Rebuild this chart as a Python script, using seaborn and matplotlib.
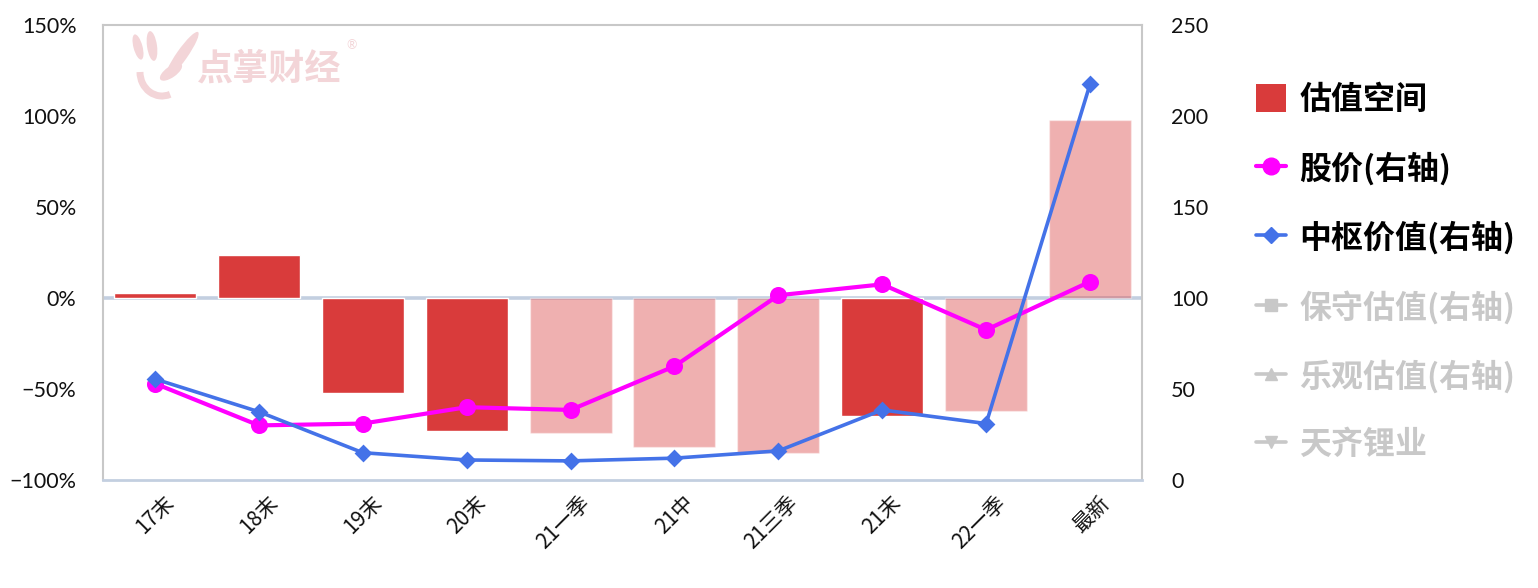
import numpy as np
import pandas as pd
import matplotlib
matplotlib.use("Agg")
import matplotlib.pyplot as plt
import matplotlib.transforms as mtransforms
from matplotlib.lines import Line2D
from matplotlib.patches import Patch, Ellipse, Arc
import seaborn as sns

# ---------------- data ----------------
categories = ["17末", "18末", "19末", "20末", "21一季", "21中", "21三季", "21末", "22一季", "最新"]
space_pct = [3, 23.5, -52, -73, -74, -82, -85, -65, -62, 98]          # 估值空间 (left axis, %)
space_kind = ["实", "实", "实", "实", "虚", "虚", "虚", "实", "虚", "虚"]  # solid / faded bar
price = [53, 30, 31, 40, 38.5, 62.5, 101.5, 107.5, 82.5, 109]        # 股价(右轴)
center_value = [55.5, 37.5, 15, 11, 10.5, 12, 16, 38.5, 31, 217.5]   # 中枢价值(右轴)
left_ticks = [-100, -50, 0, 50, 100, 150]
right_ticks = [0, 50, 100, 150, 200, 250]
legend_labels = ["估值空间", "股价(右轴)", "中枢价值(右轴)", "保守估值(右轴)", "乐观估值(右轴)", "天齐锂业"]

RED = "#D93B3B"
MAGENTA = "#FF00FF"
BLUE = "#4472E8"
GRAY = "#C8C8C8"
ZERO = "#C3CFE0"

sns.set_theme(style="white")
plt.rcParams["font.family"] = ["Lato", "Noto Sans CJK SC", "DejaVu Sans"]
CJK = ["Noto Sans CJK SC", "DejaVu Sans"]

df = pd.DataFrame({"cat": categories, "space": space_pct, "kind": space_kind,
                   "price": price, "center": center_value})

W, H = 1538, 588
fig = plt.figure(figsize=(W / 100, H / 100), dpi=100)
ax = fig.add_axes([103 / W, 1 - 480 / H, (1142 - 103) / W, (480 - 25) / H])

sns.barplot(data=df, x="cat", y="space", hue="kind", hue_order=["实", "虚"],
            palette={"实": RED, "虚": RED}, dodge=False, width=0.79,
            saturation=1, legend=False, ax=ax, zorder=3)
for p in ax.containers[1]:
    p.set_alpha(0.4)

ax.axhline(0, color=ZERO, lw=2.6, zorder=2)
ax.set_ylim(-100, 150)
ax.set_yticks(left_ticks)
ax.set_yticklabels([f"{t}%" if t >= 0 else f"\u2212{abs(t)}%" for t in left_ticks])
ax.set_xlim(-0.5, len(categories) - 0.5)
ax.set_xlabel("")
ax.set_ylabel("")
ax.tick_params(axis="y", length=0, pad=19, labelsize=15.5, labelcolor="#111111")
ax.tick_params(axis="x", length=0, pad=4)
ax.set_xticks(range(len(categories)))
ax.set_xticklabels(categories, rotation=45, ha="right", va="top",
                   rotation_mode="anchor", family=CJK, fontsize=15, color="#111111")
offset = mtransforms.ScaledTranslation(8 / 100, -6 / 100, fig.dpi_scale_trans)
for lab in ax.get_xticklabels():
    lab.set_transform(lab.get_transform() + offset)

for side in ["top", "left", "right"]:
    ax.spines[side].set_color(GRAY)
    ax.spines[side].set_linewidth(1.5)
ax.spines["bottom"].set_color(ZERO)
ax.spines["bottom"].set_linewidth(2)

ax2 = ax.twinx()
sns.pointplot(data=df, x="cat", y="price", color=MAGENTA, markers="o",
              linestyles="-", ax=ax2, errorbar=None,
              markersize=10, linewidth=3)
sns.pointplot(data=df, x="cat", y="center", color=BLUE, markers="D",
              linestyles="-", ax=ax2, errorbar=None,
              markersize=7, linewidth=2.6)
ax2.set_ylim(0, 250)
ax2.set_yticks(right_ticks)
ax2.set_yticklabels([str(t) for t in right_ticks])
ax2.set_ylabel("")
ax2.set_xlabel("")
ax2.tick_params(axis="y", length=0, pad=21, labelsize=15.5, labelcolor="#111111")
for side in ["top", "left", "right", "bottom"]:
    ax2.spines[side].set_visible(False)
ax2.set_xlim(-0.5, len(categories) - 0.5)

# watermark (logo + text), drawn in pixel coordinates
wm = "#F3D5D8"
px = mtransforms.IdentityTransform()
for (cx, cy, w, h, ang) in [(138, 47, 9, 26, 15), (152, 46, 10, 30, 8),
                            (182, 55, 11, 56, -35), (171, 72, 11, 26, -55)]:
    fig.patches.append(Ellipse((cx, H - cy), w, h, angle=ang, transform=px,
                               facecolor=wm, lw=0, zorder=0))
fig.patches.append(Arc((162, H - 72), 44, 48, angle=0, theta1=180, theta2=290,
                       transform=px, color=wm, lw=5, zorder=0))
fig.text(197 / W, 1 - 69 / H, "点掌财经", fontsize=26, fontweight="bold",
         color=wm, family=CJK, va="center", ha="left")
fig.text(346 / W, 1 - 45 / H, "®", fontsize=9, color=wm, va="center", ha="left")

# legend
handles = [
    Patch(facecolor=RED, edgecolor="none"),
    Line2D([], [], color=MAGENTA, lw=3, marker="o", markersize=12),
    Line2D([], [], color=BLUE, lw=2.6, marker="D", markersize=8),
    Line2D([], [], color=GRAY, lw=2.6, marker="s", markersize=8),
    Line2D([], [], color=GRAY, lw=2.6, marker="^", markersize=8),
    Line2D([], [], color=GRAY, lw=2.6, marker="v", markersize=8),
]
leg = fig.legend(handles, legend_labels, loc="upper left",
                 bbox_to_anchor=(1240 / W, 1 - 68 / H), frameon=False,
                 prop={"family": CJK, "size": 23, "weight": "bold"},
                 handlelength=0.95, handleheight=0.95, handletextpad=0.4,
                 labelspacing=1.12, borderpad=0)
for i, t in enumerate(leg.get_texts()):
    t.set_color("#000000" if i < 3 else GRAY)

fig.savefig("out.png", dpi=100)
